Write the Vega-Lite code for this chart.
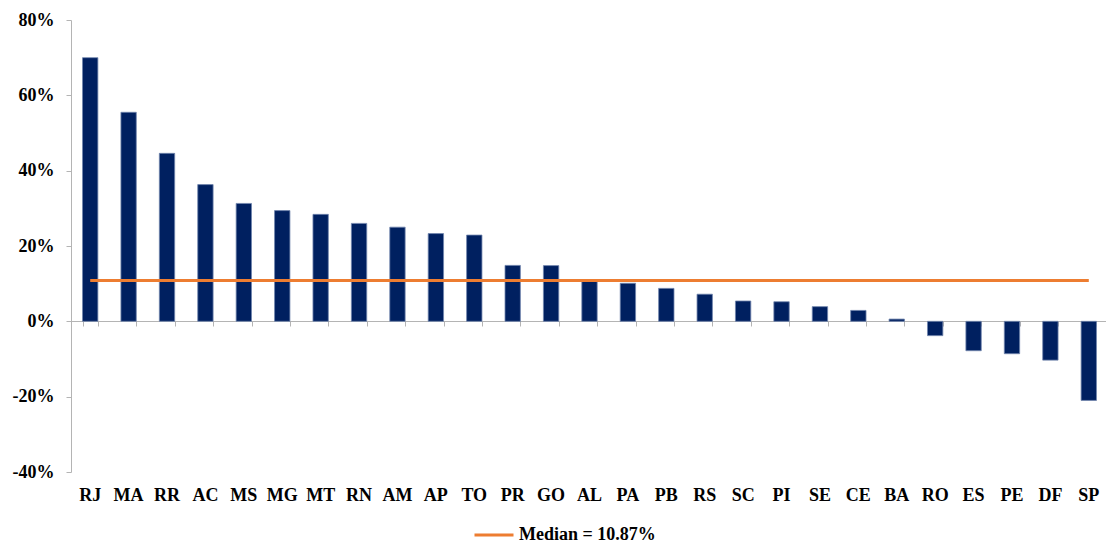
{
  "$schema": "https://vega.github.io/schema/vega-lite/v6.json",
  "width": 1037,
  "height": 452,
  "autosize": {"type": "none"},
  "padding": {"left": 71, "top": 20, "right": 0, "bottom": 72},
  "background": "white",
  "config": {
    "view": {"stroke": null},
    "font": "Liberation Serif",
    "axis": {"grid": false, "labelFont": "Liberation Serif", "labelFontWeight": "bold", "labelFontSize": 18, "labelColor": "#000000", "domainColor": "#B4B4B4", "tickColor": "#B4B4B4", "tickSize": 5, "title": null}
  },
  "data": {"values": [
    {"state": "RJ", "value": 70.0, "median": 10.87, "series": "Median = 10.87%"},
    {"state": "MA", "value": 55.5, "median": 10.87, "series": "Median = 10.87%"},
    {"state": "RR", "value": 44.6, "median": 10.87, "series": "Median = 10.87%"},
    {"state": "AC", "value": 36.3, "median": 10.87, "series": "Median = 10.87%"},
    {"state": "MS", "value": 31.3, "median": 10.87, "series": "Median = 10.87%"},
    {"state": "MG", "value": 29.4, "median": 10.87, "series": "Median = 10.87%"},
    {"state": "MT", "value": 28.4, "median": 10.87, "series": "Median = 10.87%"},
    {"state": "RN", "value": 26.0, "median": 10.87, "series": "Median = 10.87%"},
    {"state": "AM", "value": 25.0, "median": 10.87, "series": "Median = 10.87%"},
    {"state": "AP", "value": 23.3, "median": 10.87, "series": "Median = 10.87%"},
    {"state": "TO", "value": 22.9, "median": 10.87, "series": "Median = 10.87%"},
    {"state": "PR", "value": 14.85, "median": 10.87, "series": "Median = 10.87%"},
    {"state": "GO", "value": 14.8, "median": 10.87, "series": "Median = 10.87%"},
    {"state": "AL", "value": 10.7, "median": 10.87, "series": "Median = 10.87%"},
    {"state": "PA", "value": 10.1, "median": 10.87, "series": "Median = 10.87%"},
    {"state": "PB", "value": 8.75, "median": 10.87, "series": "Median = 10.87%"},
    {"state": "RS", "value": 7.2, "median": 10.87, "series": "Median = 10.87%"},
    {"state": "SC", "value": 5.4, "median": 10.87, "series": "Median = 10.87%"},
    {"state": "PI", "value": 5.2, "median": 10.87, "series": "Median = 10.87%"},
    {"state": "SE", "value": 3.9, "median": 10.87, "series": "Median = 10.87%"},
    {"state": "CE", "value": 2.9, "median": 10.87, "series": "Median = 10.87%"},
    {"state": "BA", "value": 0.6, "median": 10.87, "series": "Median = 10.87%"},
    {"state": "RO", "value": -3.8, "median": 10.87, "series": "Median = 10.87%"},
    {"state": "ES", "value": -7.8, "median": 10.87, "series": "Median = 10.87%"},
    {"state": "PE", "value": -8.6, "median": 10.87, "series": "Median = 10.87%"},
    {"state": "DF", "value": -10.3, "median": 10.87, "series": "Median = 10.87%"},
    {"state": "SP", "value": -21.0, "median": 10.87, "series": "Median = 10.87%"}
  ]},
  "resolve": {"axis": {"x": "independent"}},
  "layer": [
    {
      "mark": {"type": "bar", "color": "#002060", "stroke": "#7185AD", "strokeWidth": 0.8},
      "encoding": {
        "x": {"field": "state", "type": "nominal", "sort": null,
          "scale": {"paddingInner": 0.6, "paddingOuter": 0.3},
          "axis": {"orient": "bottom", "domain": false, "ticks": false, "labelAngle": 0, "labelPadding": 14, "labelBaseline": "top"}},
        "y": {"field": "value", "type": "quantitative",
          "scale": {"domain": [-40, 80], "nice": false, "zero": false},
          "axis": {"values": [-40, -20, 0, 20, 40, 60, 80], "labelExpr": "datum.value + '%'", "labelPadding": 12, "domain": true}}
      }
    },
    {
      "mark": {"type": "line", "strokeWidth": 3},
      "encoding": {
        "x": {"field": "state", "type": "nominal", "sort": null,
          "axis": {"orient": "bottom", "offset": -151, "labels": false, "domain": true, "ticks": true, "tickBand": "extent"}},
        "y": {"field": "median", "type": "quantitative"},
        "color": {"field": "series", "type": "nominal",
          "scale": {"range": ["#ED7D31"]},
          "legend": {"orient": "none", "legendX": 402, "legendY": 494, "title": null, "symbolType": "stroke", "symbolSize": 1521, "symbolStrokeWidth": 3, "labelFont": "Liberation Serif", "labelFontWeight": "bold", "labelFontSize": 18, "labelColor": "#000000", "labelOffset": 4}}
      }
    }
  ]
}
